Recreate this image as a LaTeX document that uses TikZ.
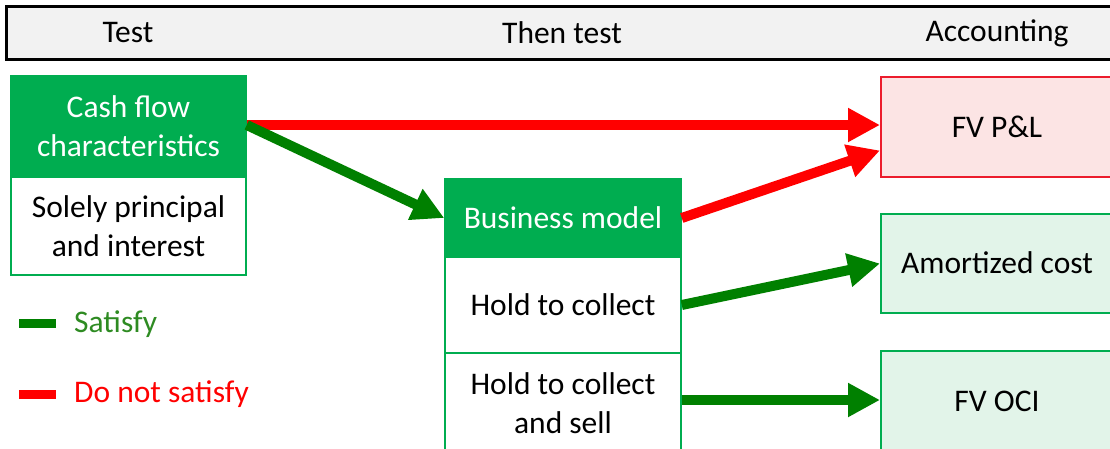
\documentclass[tikz,border=0pt]{standalone}
\usepackage{fontspec}
\setmainfont{Carlito}
\usetikzlibrary{arrows.meta,calc}
\definecolor{boxgreen}{HTML}{00AD50}
\definecolor{arrgreen}{HTML}{008000}
\definecolor{arrred}{HTML}{FF0000}
\definecolor{pinkfill}{HTML}{FCE4E4}
\definecolor{pinkline}{HTML}{EC1C2C}
\definecolor{mintfill}{HTML}{E2F4E9}
\definecolor{legendgreen}{HTML}{2E8B22}
\definecolor{headfill}{HTML}{F2F2F2}
\tikzset{
  txt/.style={font=\fontsize{31.5}{39}\selectfont, align=center, inner sep=0pt},
  gbox/.style={txt, draw=boxgreen, fill=boxgreen, text=white, line width=1.5pt, rectangle},
  wbox/.style={txt, draw=boxgreen, fill=white, text=black, line width=1.5pt, rectangle},
  pbox/.style={txt, draw=pinkline, fill=pinkfill, line width=2pt, rectangle},
  mbox/.style={txt, draw=boxgreen, fill=mintfill, line width=2pt, rectangle},
  garrow/.style={draw=arrgreen, line width=10pt, -{Triangle[length=32pt,width=32pt]}},
  rarrow/.style={draw=arrred, line width=10pt, -{Triangle[length=32pt,width=32pt]}},
}
\begin{document}
\begin{tikzpicture}[x=1pt,y=-1pt]
\useasboundingbox (0,0) rectangle (1110,448);
% header
\node[draw=black, fill=headfill, line width=2.5pt, minimum width=1120pt, minimum height=53pt, anchor=north west, inner sep=0pt] (head) at (5,5) {};
\node[txt] (h1) at (128,33) {Test};
\node[txt] (h2) at (562,33) {Then test};
\node[txt] (h3) at (997,33) {Accounting};
% cash flow box
\node[wbox, minimum width=235pt, minimum height=98pt] (cfw) at (128.5,226) {Solely principal\\and interest};
\node[gbox, minimum width=235pt, minimum height=101pt] (cfg) at (128.5,126.5) {Cash flow\\characteristics};
% business model box
\node[wbox, minimum width=236pt, minimum height=96pt] (hc) at (563,305) {Hold to collect};
\node[wbox, minimum width=236pt, minimum height=100pt] (hs) at (563,403) {Hold to collect\\and sell};
\node[gbox, minimum width=236pt, minimum height=78pt] (bmg) at (563,218) {Business model};
% accounting boxes
\node[pbox, minimum width=238pt, minimum height=100pt, anchor=north west] (pl) at (880,76) {};
\node[txt] (plt) at (997,127) {FV P\&L};
\node[mbox, minimum width=238pt, minimum height=99pt, anchor=north west] (am) at (880,213) {};
\node[txt] (amt) at (997,263) {Amortized cost};
\node[mbox, minimum width=238pt, minimum height=110pt, anchor=north west] (oci) at (880,350) {};
\node[txt] (ocit) at (997,401) {FV OCI};
% connectors
\draw[rarrow] (cfg.east |- 0,125) coordinate (r1s) -- (r1s -| pl.west);
\draw[garrow] (r1s) -- (bmg.west);
\draw[rarrow] (bmg.east) -- ($(pl.west)!0.46!(pl.south west)$);
\draw[garrow] (hc.east) -- (am.west);
\draw[garrow] (hs.east |- 0,400) coordinate (g3s) -- (g3s -| oci.west);
% legend
\node[fill=arrgreen, minimum width=37pt, minimum height=9pt, inner sep=0pt] (lg) at (37.5,323) {};
\node[txt, text=legendgreen, anchor=west] (lgt) at (74,324) {Satisfy};
\node[fill=arrred, minimum width=37pt, minimum height=9pt, inner sep=0pt] (lr) at (37.5,394.5) {};
\node[txt, text=arrred, anchor=west] (lrt) at (74,394) {Do not satisfy};
\end{tikzpicture}
\end{document}
